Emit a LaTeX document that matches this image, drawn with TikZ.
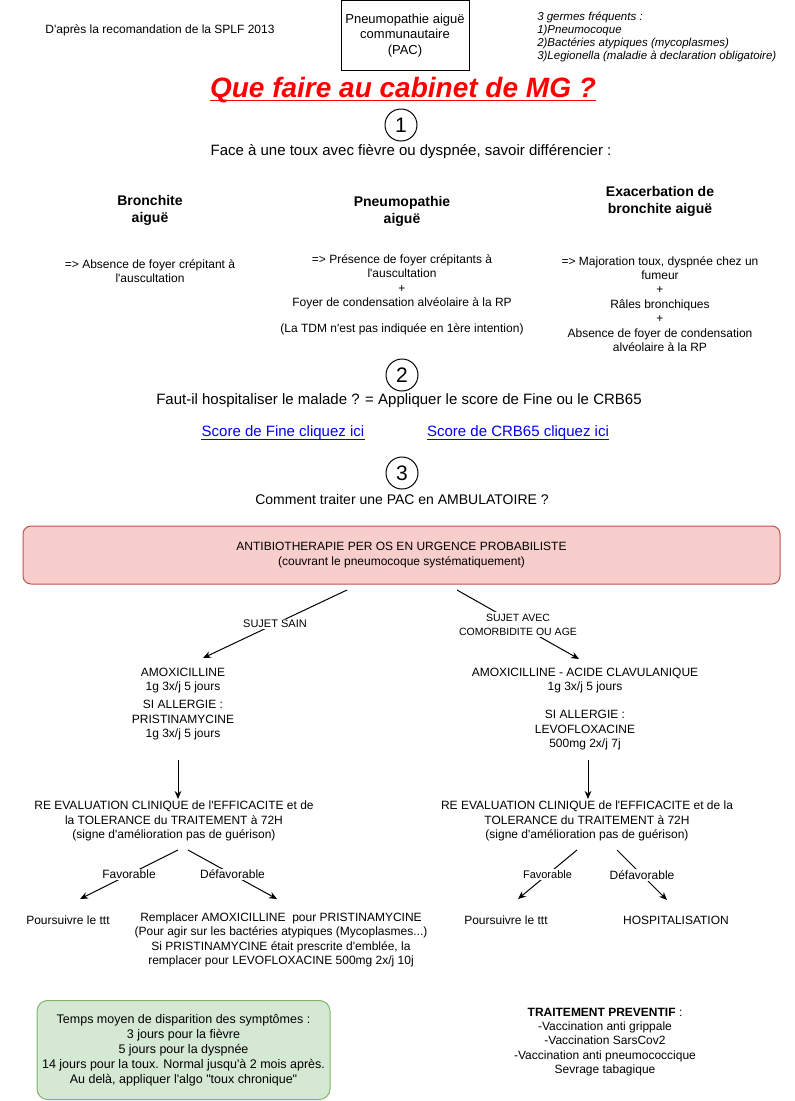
\documentclass[tikz,border=0pt]{standalone}
\usepackage{fontspec}
\setmainfont{Liberation Sans}[Ligatures=TeXOff]
\usetikzlibrary{arrows.meta}
\newcommand\fszl[2]{\fontsize{\fpeval{0.75*#1}}{\fpeval{0.75*#2}}\selectfont}
\definecolor{pinkfill}{HTML}{F8CECC}
\definecolor{pinkdraw}{HTML}{B85450}
\definecolor{greenfill}{HTML}{D5E8D4}
\definecolor{greendraw}{HTML}{82B366}
\definecolor{linkblue}{HTML}{0000EE}
\definecolor{titlered}{HTML}{FF0000}
\begin{document}
\begin{tikzpicture}[x=0.75pt,y=-0.75pt,
  txt/.style={inner sep=0pt, align=center},
  t12/.style={txt, font=\fszl{12}{14.4}},
  t15/.style={txt, font=\fszl{15}{17}},
  hd/.style={txt, font=\fszl{14}{17}\bfseries},
  num/.style={circle, draw, line width=0.75pt, minimum size=24pt, inner sep=0pt, font=\fszl{21}{22}},
  arr/.style={-{Stealth[length=6pt,width=5pt]}, line width=0.75pt},
  lab/.style={fill=white, inner sep=1pt, align=center},
  link/.style={t15, text=linkblue}
]
\useasboundingbox (0,0) rectangle (794,1101);

% header
\node[txt, font=\fszl{12}{14}] (src) at (160,30) {D'après la recomandation de la SPLF 2013};
\node[draw, line width=0.75pt, minimum width=96pt, minimum height=52pt, inner sep=0pt,
      align=center, font=\fszl{13}{15.5}] (pac) at (405,35.5) {Pneumopathie aiguë\\communautaire\\(PAC)};
\node[txt, anchor=west, align=left, font=\fszl{11.5}{13}\itshape] (germ) at (537,37)
  {3 germes fréquents :\\1)Pneumocoque\\2)Bactéries atypiques (mycoplasmes)\\3)Legionella (maladie à declaration obligatoire)};

% title
\node[txt, font=\fszl{28}{30}\bfseries\itshape, text=titlered] (title) at (403,90) {Que faire au cabinet de MG ?};
\draw[titlered, line width=1.4pt] ([yshift=-2.3pt]title.base west) -- ([yshift=-2.3pt]title.base east);

% section 1
\node[num] (c1) at (401,125) {1};
\node[t15] (q1) at (411,152) {Face à une toux avec fièvre ou dyspnée, savoir différencier :};

\node[hd] (hb) at (150,210.5) {Bronchite\\aiguë};
\node[hd] (hp) at (402,211.5) {Pneumopathie\\aiguë};
\node[hd] (he) at (660,201) {Exacerbation de\\bronchite aiguë};

\node[t12] (bb) at (150,271) {=> Absence de foyer crépitant à\\l'auscultation};
\node[t12] (bp) at (402,295) {=> Présence de foyer crépitants à\\l'auscultation\\+\\Foyer de condensation alvéolaire à la RP\\[9pt](La TDM n'est pas indiquée en 1ère intention)};
\node[t12] (be) at (660,304) {=> Majoration toux, dyspnée chez un\\fumeur\\+\\Râles bronchiques\\+\\Absence de foyer de condensation\\alvéolaire à la RP};

% section 2
\node[num] (c2) at (402,375) {2};
\node[t15] (q2) at (399,401) {Faut-il hospitaliser le malade ? = Appliquer le score de Fine ou le CRB65};
\node[link] (l1) at (283,433) {Score de Fine cliquez ici};
\node[link] (l2) at (518,433) {Score de CRB65 cliquez ici};
\draw[linkblue, line width=0.75pt] ([yshift=-1.6pt]l1.base west) -- ([yshift=-1.6pt]l1.base east);
\draw[linkblue, line width=0.75pt] ([yshift=-1.6pt]l2.base west) -- ([yshift=-1.6pt]l2.base east);

% section 3
\node[num] (c3) at (402,473) {3};
\node[txt, font=\fszl{14}{17}] (q3) at (402,499) {Comment traiter une PAC en AMBULATOIRE ?};

\node[draw=pinkdraw, fill=pinkfill, line width=0.75pt, rounded corners=6pt,
      minimum width=567.75pt, minimum height=43.5pt, inner sep=0pt, align=center,
      font=\fszl{12}{15}] (atb) at (401.5,555)
  {ANTIBIOTHERAPIE PER OS EN URGENCE PROBABILISTE\\(couvrant le pneumocoque systématiquement)};

\coordinate (sL) at (347,590);
\coordinate (eL) at (203,658);
\coordinate (sR) at (457,590);
\coordinate (eR) at (579,659);
\draw[arr] (sL) -- node[lab, font=\fszl{11}{13}] (labL) {SUJET SAIN} (eL);
\draw[arr] (sR) -- node[lab, font=\fszl{10.5}{14}] (labR) {SUJET AVEC\\COMORBIDITE OU AGE} (eR);

\node[t12] (tL) at (183,704) {AMOXICILLINE\\1g 3x/j 5 jours\\[2.7pt]SI ALLERGIE :\\PRISTINAMYCINE\\1g 3x/j 5 jours};
\node[t12] (tR) at (585,709) {AMOXICILLINE - ACIDE CLAVULANIQUE\\1g 3x/j 5 jours\\[10pt]SI ALLERGIE :\\LEVOFLOXACINE\\500mg 2x/j 7j};

\coordinate (vL1) at (178,760);
\coordinate (vL2) at (178,799);
\coordinate (vR1) at (588,760);
\coordinate (vR2) at (588,799);
\draw[arr] (vL1) -- (vL2);
\draw[arr] (vR1) -- (vR2);

\node[t12] (rL) at (174,821) {RE EVALUATION CLINIQUE de l'EFFICACITE et de\\la TOLERANCE du TRAITEMENT à 72H\\(signe d'amélioration pas de guérison)};
\node[t12] (rR) at (587,821) {RE EVALUATION CLINIQUE de l'EFFICACITE et de la\\TOLERANCE du TRAITEMENT à 72H\\(signe d'amélioration pas de guérison)};

\coordinate (fL1) at (178,850);
\coordinate (fL2) at (80,899);
\coordinate (dL1) at (188,850);
\coordinate (dL2) at (277,899);
\coordinate (fR1) at (577,850);
\coordinate (fR2) at (518,899);
\coordinate (dR1) at (617,850);
\coordinate (dR2) at (667,900);
\draw[arr] (fL1) -- node[lab, font=\fszl{12}{13}] (lfL) {Favorable} (fL2);
\draw[arr] (dL1) -- node[lab, font=\fszl{12}{13}] (ldL) {Défavorable} (dL2);
\draw[arr] (fR1) -- node[lab, font=\fszl{11}{13}] (lfR) {Favorable} (fR2);
\draw[arr] (dR1) -- node[lab, font=\fszl{12}{13}] (ldR) {Défavorable} (dR2);

\node[t12] (pL) at (68,920) {Poursuivre le ttt};
\node[t12] (rep) at (281,940) {Remplacer AMOXICILLINE~ pour PRISTINAMYCINE\\(Pour agir sur les bactéries atypiques (Mycoplasmes...)\\Si PRISTINAMYCINE était prescrite d'emblée, la\\remplacer pour LEVOFLOXACINE 500mg 2x/j 10j};
\node[t12] (pR) at (506,920) {Poursuivre le ttt};
\node[t12] (hosp) at (676,920) {HOSPITALISATION};

% bottom
\node[draw=greendraw, fill=greenfill, line width=0.75pt, rounded corners=8pt,
      minimum width=219.75pt, minimum height=74.25pt, inner sep=0pt, align=center,
      font=\fszl{12.5}{15}] (green) at (183.5,1050)
  {Temps moyen de disparition des symptômes :\\3 jours pour la fièvre\\5 jours pour la dyspnée\\14 jours pour la toux. Normal jusqu'à 2 mois après.\\Au delà, appliquer l'algo "toux chronique"};
\node[txt, font=\fszl{12}{14.3}] (prev) at (605,1042)
  {\textbf{TRAITEMENT PREVENTIF} :\\-Vaccination anti grippale\\-Vaccination SarsCov2\\-Vaccination anti pneumococcique\\Sevrage tabagique};
\end{tikzpicture}
\end{document}
